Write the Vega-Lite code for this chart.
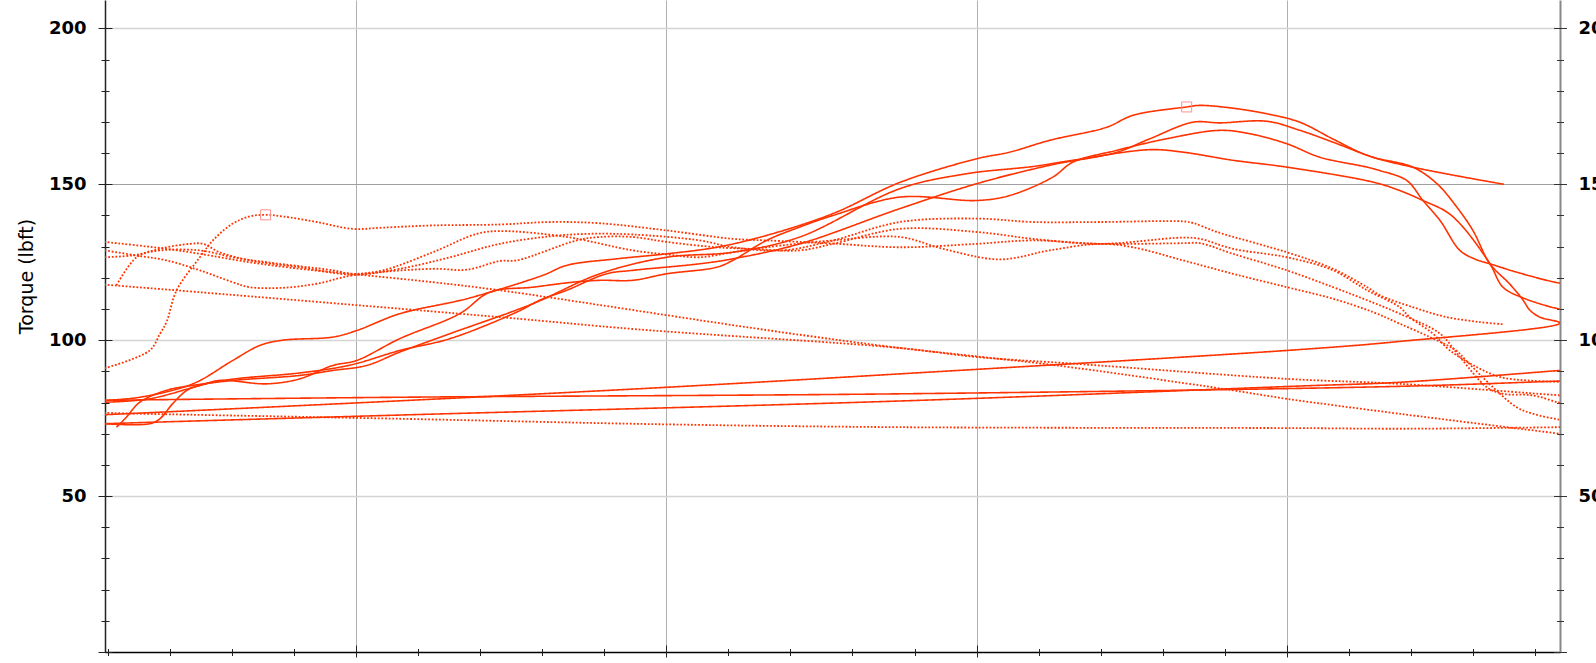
{
"$schema": "https://vega.github.io/schema/vega-lite/v6.json",
"width": 1455, "height": 652,
"autosize": {"type": "none"},
"padding": {"left": 105, "top": 0, "right": 36, "bottom": 11},
"background": "#ffffff",
"config": {"view": {"stroke": null}, "axis": {"labelFont": "DejaVu Sans", "titleFont": "DejaVu Sans"}},
"datasets": {
"marks": [{"rpm": 4678, "tq": 174.8}, {"rpm": 1707, "tq": 140.2}],
"lines": [
{"p":"P1","s":"solid","i":0,"rpm":1188,"tq":80.7},{"p":"P1","s":"solid","i":1,"rpm":1301,"tq":81.7},{"p":"P1","s":"solid","i":2,"rpm":1472,"tq":86},{"p":"P1","s":"solid","i":3,"rpm":1601,"tq":93.5},{"p":"P1","s":"solid","i":4,"rpm":1688,"tq":98.3},{"p":"P1","s":"solid","i":5,"rpm":1762,"tq":100},{"p":"P1","s":"solid","i":6,"rpm":1924,"tq":101},{"p":"P1","s":"solid","i":7,"rpm":2001,"tq":103.1},{"p":"P1","s":"solid","i":8,"rpm":2140,"tq":108.5},{"p":"P1","s":"solid","i":9,"rpm":2356,"tq":113.3},{"p":"P1","s":"solid","i":10,"rpm":2601,"tq":120.8},{"p":"P1","s":"solid","i":11,"rpm":2678,"tq":124},{"p":"P1","s":"solid","i":12,"rpm":2840,"tq":126.1},{"p":"P1","s":"solid","i":13,"rpm":3001,"tq":127.7},{"p":"P1","s":"solid","i":14,"rpm":3162,"tq":129.8},{"p":"P1","s":"solid","i":15,"rpm":3323,"tq":133.6},{"p":"P1","s":"solid","i":16,"rpm":3537,"tq":140.6},{"p":"P1","s":"solid","i":17,"rpm":3753,"tq":150.6},{"p":"P1","s":"solid","i":18,"rpm":4001,"tq":158.2},{"p":"P1","s":"solid","i":19,"rpm":4107,"tq":160.3},{"p":"P1","s":"solid","i":20,"rpm":4236,"tq":164.1},{"p":"P1","s":"solid","i":21,"rpm":4420,"tq":168.3},{"p":"P1","s":"solid","i":22,"rpm":4504,"tq":172.1},{"p":"P1","s":"solid","i":23,"rpm":4678,"tq":174.8},{"p":"P1","s":"solid","i":24,"rpm":4721,"tq":175.3},{"p":"P1","s":"solid","i":25,"rpm":4827,"tq":174.4},{"p":"P1","s":"solid","i":26,"rpm":4937,"tq":172.6},{"p":"P1","s":"solid","i":27,"rpm":5043,"tq":169.9},{"p":"P1","s":"solid","i":28,"rpm":5150,"tq":164.5},{"p":"P1","s":"solid","i":29,"rpm":5260,"tq":159.3},{"p":"P1","s":"solid","i":30,"rpm":5407,"tq":155.5},{"p":"P1","s":"solid","i":31,"rpm":5701,"tq":150},
{"p":"P2","s":"solid","i":0,"rpm":1188,"tq":73.2},{"p":"P2","s":"solid","i":1,"rpm":1333,"tq":73.2},{"p":"P2","s":"solid","i":2,"rpm":1366,"tq":74.8},{"p":"P2","s":"solid","i":3,"rpm":1407,"tq":79.6},{"p":"P2","s":"solid","i":4,"rpm":1453,"tq":83.9},{"p":"P2","s":"solid","i":5,"rpm":1495,"tq":85.5},{"p":"P2","s":"solid","i":6,"rpm":1601,"tq":87.5},{"p":"P2","s":"solid","i":7,"rpm":1817,"tq":89.5},{"p":"P2","s":"solid","i":8,"rpm":1979,"tq":92},{"p":"P2","s":"solid","i":9,"rpm":2140,"tq":96.7},{"p":"P2","s":"solid","i":10,"rpm":2302,"tq":100.5},{"p":"P2","s":"solid","i":11,"rpm":2517,"tq":109},{"p":"P2","s":"solid","i":12,"rpm":2591,"tq":112.8},{"p":"P2","s":"solid","i":13,"rpm":2678,"tq":116},{"p":"P2","s":"solid","i":14,"rpm":2807,"tq":121.3},{"p":"P2","s":"solid","i":15,"rpm":2891,"tq":122.4},{"p":"P2","s":"solid","i":16,"rpm":3107,"tq":124.5},{"p":"P2","s":"solid","i":17,"rpm":3214,"tq":126.1},{"p":"P2","s":"solid","i":18,"rpm":3430,"tq":130.9},{"p":"P2","s":"solid","i":19,"rpm":3753,"tq":142.2},{"p":"P2","s":"solid","i":20,"rpm":4001,"tq":150.2},{"p":"P2","s":"solid","i":21,"rpm":4236,"tq":156.1},{"p":"P2","s":"solid","i":22,"rpm":4453,"tq":160.3},{"p":"P2","s":"solid","i":23,"rpm":4559,"tq":164.6},{"p":"P2","s":"solid","i":24,"rpm":4698,"tq":169.9},{"p":"P2","s":"solid","i":25,"rpm":4785,"tq":169.7},{"p":"P2","s":"solid","i":26,"rpm":4937,"tq":170.2},{"p":"P2","s":"solid","i":27,"rpm":5043,"tq":167.3},{"p":"P2","s":"solid","i":28,"rpm":5150,"tq":163.5},{"p":"P2","s":"solid","i":29,"rpm":5279,"tq":158.7},{"p":"P2","s":"solid","i":30,"rpm":5407,"tq":155.5},{"p":"P2","s":"solid","i":31,"rpm":5485,"tq":150.2},{"p":"P2","s":"solid","i":32,"rpm":5549,"tq":142.7},{"p":"P2","s":"solid","i":33,"rpm":5601,"tq":135.2},{"p":"P2","s":"solid","i":34,"rpm":5656,"tq":124.5},{"p":"P2","s":"solid","i":35,"rpm":5720,"tq":118},{"p":"P2","s":"solid","i":36,"rpm":5762,"tq":113},{"p":"P2","s":"solid","i":37,"rpm":5785,"tq":109.6},{"p":"P2","s":"solid","i":38,"rpm":5817,"tq":107.4},{"p":"P2","s":"solid","i":39,"rpm":5882,"tq":105.5},{"p":"P2","s":"solid","i":40,"rpm":5365,"tq":99.6},{"p":"P2","s":"solid","i":41,"rpm":5043,"tq":97.0},{"p":"P2","s":"solid","i":42,"rpm":3753,"tq":89.2},{"p":"P2","s":"solid","i":43,"rpm":3001,"tq":84.9},{"p":"P2","s":"solid","i":44,"rpm":2107,"tq":80.4},{"p":"P2","s":"solid","i":45,"rpm":1188,"tq":76.1},{"p":"P2","s":"solid","i":46,"rpm":1140,"tq":75.9},
{"p":"P3","s":"solid","i":0,"rpm":1188,"tq":80.1},{"p":"P3","s":"solid","i":1,"rpm":1333,"tq":81.2},{"p":"P3","s":"solid","i":2,"rpm":1495,"tq":85.5},{"p":"P3","s":"solid","i":3,"rpm":1559,"tq":87.1},{"p":"P3","s":"solid","i":4,"rpm":1711,"tq":86},{"p":"P3","s":"solid","i":5,"rpm":1817,"tq":87.6},{"p":"P3","s":"solid","i":6,"rpm":1924,"tq":91.9},{"p":"P3","s":"solid","i":7,"rpm":2001,"tq":93.5},{"p":"P3","s":"solid","i":8,"rpm":2140,"tq":100.5},{"p":"P3","s":"solid","i":9,"rpm":2333,"tq":108.5},{"p":"P3","s":"solid","i":10,"rpm":2430,"tq":115.4},{"p":"P3","s":"solid","i":11,"rpm":2569,"tq":117},{"p":"P3","s":"solid","i":12,"rpm":2698,"tq":118.6},{"p":"P3","s":"solid","i":13,"rpm":2785,"tq":119.2},{"p":"P3","s":"solid","i":14,"rpm":2891,"tq":119.2},{"p":"P3","s":"solid","i":15,"rpm":3001,"tq":121.3},{"p":"P3","s":"solid","i":16,"rpm":3162,"tq":123.4},{"p":"P3","s":"solid","i":17,"rpm":3214,"tq":125.6},{"p":"P3","s":"solid","i":18,"rpm":3323,"tq":132},{"p":"P3","s":"solid","i":19,"rpm":3430,"tq":136.3},{"p":"P3","s":"solid","i":20,"rpm":3537,"tq":140},{"p":"P3","s":"solid","i":21,"rpm":3753,"tq":145.9},{"p":"P3","s":"solid","i":22,"rpm":4001,"tq":144.8},{"p":"P3","s":"solid","i":23,"rpm":4107,"tq":146.4},{"p":"P3","s":"solid","i":24,"rpm":4246,"tq":152.3},{"p":"P3","s":"solid","i":25,"rpm":4311,"tq":157.1},{"p":"P3","s":"solid","i":26,"rpm":4453,"tq":160.9},{"p":"P3","s":"solid","i":27,"rpm":4613,"tq":164.6},{"p":"P3","s":"solid","i":28,"rpm":4785,"tq":167.3},{"p":"P3","s":"solid","i":29,"rpm":4882,"tq":166.2},{"p":"P3","s":"solid","i":30,"rpm":5001,"tq":163},{"p":"P3","s":"solid","i":31,"rpm":5107,"tq":158.7},{"p":"P3","s":"solid","i":32,"rpm":5260,"tq":155.5},{"p":"P3","s":"solid","i":33,"rpm":5301,"tq":154.4},{"p":"P3","s":"solid","i":34,"rpm":5388,"tq":151.2},{"p":"P3","s":"solid","i":35,"rpm":5440,"tq":144.8},{"p":"P3","s":"solid","i":36,"rpm":5495,"tq":138.4},{"p":"P3","s":"solid","i":37,"rpm":5559,"tq":128.8},{"p":"P3","s":"solid","i":38,"rpm":5608,"tq":126},{"p":"P3","s":"solid","i":39,"rpm":5656,"tq":124.5},{"p":"P3","s":"solid","i":40,"rpm":5753,"tq":121.5},{"p":"P3","s":"solid","i":41,"rpm":5882,"tq":118.3},{"p":"P3","s":"solid","i":42,"rpm":5946,"tq":117.8},
{"p":"P4","s":"solid","i":0,"rpm":1226,"tq":72.1},{"p":"P4","s":"solid","i":1,"rpm":1258,"tq":75.3},{"p":"P4","s":"solid","i":2,"rpm":1301,"tq":80.1},{"p":"P4","s":"solid","i":3,"rpm":1387,"tq":83.9},{"p":"P4","s":"solid","i":4,"rpm":1472,"tq":85.5},{"p":"P4","s":"solid","i":5,"rpm":1601,"tq":87.1},{"p":"P4","s":"solid","i":6,"rpm":1817,"tq":88.7},{"p":"P4","s":"solid","i":7,"rpm":1924,"tq":90.3},{"p":"P4","s":"solid","i":8,"rpm":2033,"tq":91.9},{"p":"P4","s":"solid","i":9,"rpm":2140,"tq":96.2},{"p":"P4","s":"solid","i":10,"rpm":2302,"tq":102.1},{"p":"P4","s":"solid","i":11,"rpm":2569,"tq":111.7},{"p":"P4","s":"solid","i":12,"rpm":2785,"tq":121.3},{"p":"P4","s":"solid","i":13,"rpm":3001,"tq":126.6},{"p":"P4","s":"solid","i":14,"rpm":3214,"tq":128.2},{"p":"P4","s":"solid","i":15,"rpm":3430,"tq":133.1},{"p":"P4","s":"solid","i":16,"rpm":3753,"tq":148.6},{"p":"P4","s":"solid","i":17,"rpm":3969,"tq":153.4},{"p":"P4","s":"solid","i":18,"rpm":4182,"tq":155.7},{"p":"P4","s":"solid","i":19,"rpm":4311,"tq":157.7},{"p":"P4","s":"solid","i":20,"rpm":4559,"tq":161.1},{"p":"P4","s":"solid","i":21,"rpm":4666,"tq":160.3},{"p":"P4","s":"solid","i":22,"rpm":4827,"tq":157.7},{"p":"P4","s":"solid","i":23,"rpm":5001,"tq":155.5},{"p":"P4","s":"solid","i":24,"rpm":5279,"tq":150.7},{"p":"P4","s":"solid","i":25,"rpm":5365,"tq":148},{"p":"P4","s":"solid","i":26,"rpm":5440,"tq":144.8},{"p":"P4","s":"solid","i":27,"rpm":5517,"tq":141.1},{"p":"P4","s":"solid","i":28,"rpm":5569,"tq":136.3},{"p":"P4","s":"solid","i":29,"rpm":5656,"tq":124.5},{"p":"P4","s":"solid","i":30,"rpm":5698,"tq":117},{"p":"P4","s":"solid","i":31,"rpm":5762,"tq":113.6},{"p":"P4","s":"solid","i":32,"rpm":5882,"tq":110},{"p":"P4","s":"solid","i":33,"rpm":5946,"tq":109.5},
{"p":"L2","s":"solid","i":0,"rpm":1140,"tq":80.6},{"p":"L2","s":"solid","i":1,"rpm":1188,"tq":80.7},{"p":"L2","s":"solid","i":2,"rpm":2140,"tq":81.7},{"p":"L2","s":"solid","i":3,"rpm":3753,"tq":82.8},{"p":"L2","s":"solid","i":4,"rpm":5365,"tq":85.2},{"p":"L2","s":"solid","i":5,"rpm":5882,"tq":86.9},{"p":"L2","s":"solid","i":6,"rpm":5946,"tq":87.1},
{"p":"L3","s":"solid","i":0,"rpm":1140,"tq":73.0},{"p":"L3","s":"solid","i":1,"rpm":1188,"tq":73.2},{"p":"L3","s":"solid","i":2,"rpm":2107,"tq":75.9},{"p":"L3","s":"solid","i":3,"rpm":3753,"tq":80.5},{"p":"L3","s":"solid","i":4,"rpm":5043,"tq":85.3},{"p":"L3","s":"solid","i":5,"rpm":5365,"tq":86.5},{"p":"L3","s":"solid","i":6,"rpm":5882,"tq":90.3},{"p":"L3","s":"solid","i":7,"rpm":5946,"tq":90.8},
{"p":"X1","s":"dotted","i":0,"rpm":1188,"tq":91.0},{"p":"X1","s":"dotted","i":1,"rpm":1333,"tq":96.7},{"p":"X1","s":"dotted","i":2,"rpm":1366,"tq":102},{"p":"X1","s":"dotted","i":3,"rpm":1388,"tq":106},{"p":"X1","s":"dotted","i":4,"rpm":1420,"tq":116},{"p":"X1","s":"dotted","i":5,"rpm":1495,"tq":126.6},{"p":"X1","s":"dotted","i":6,"rpm":1537,"tq":132},{"p":"X1","s":"dotted","i":7,"rpm":1601,"tq":137.4},{"p":"X1","s":"dotted","i":8,"rpm":1656,"tq":139.7},{"p":"X1","s":"dotted","i":9,"rpm":1707,"tq":140.2},{"p":"X1","s":"dotted","i":10,"rpm":1762,"tq":139.7},{"p":"X1","s":"dotted","i":11,"rpm":1872,"tq":137.9},{"p":"X1","s":"dotted","i":12,"rpm":1988,"tq":135.7},{"p":"X1","s":"dotted","i":13,"rpm":2085,"tq":136.1},{"p":"X1","s":"dotted","i":14,"rpm":2246,"tq":136.8},{"p":"X1","s":"dotted","i":15,"rpm":2462,"tq":137.1},{"p":"X1","s":"dotted","i":16,"rpm":2624,"tq":137.9},{"p":"X1","s":"dotted","i":17,"rpm":2785,"tq":137.5},{"p":"X1","s":"dotted","i":18,"rpm":3001,"tq":135.2},{"p":"X1","s":"dotted","i":19,"rpm":3214,"tq":132.5},{"p":"X1","s":"dotted","i":20,"rpm":3323,"tq":132},{"p":"X1","s":"dotted","i":21,"rpm":3537,"tq":131},{"p":"X1","s":"dotted","i":22,"rpm":3753,"tq":129.8},{"p":"X1","s":"dotted","i":23,"rpm":4001,"tq":130.9},{"p":"X1","s":"dotted","i":24,"rpm":4182,"tq":132},{"p":"X1","s":"dotted","i":25,"rpm":4398,"tq":130.9},{"p":"X1","s":"dotted","i":26,"rpm":4666,"tq":131.1},{"p":"X1","s":"dotted","i":27,"rpm":4721,"tq":131.1},{"p":"X1","s":"dotted","i":28,"rpm":4827,"tq":127.7},{"p":"X1","s":"dotted","i":29,"rpm":5001,"tq":122.4},{"p":"X1","s":"dotted","i":30,"rpm":5150,"tq":117},{"p":"X1","s":"dotted","i":31,"rpm":5260,"tq":112.8},{"p":"X1","s":"dotted","i":32,"rpm":5365,"tq":108.5},{"p":"X1","s":"dotted","i":33,"rpm":5495,"tq":102.1},{"p":"X1","s":"dotted","i":34,"rpm":5559,"tq":94.6},{"p":"X1","s":"dotted","i":35,"rpm":5646,"tq":84.9},{"p":"X1","s":"dotted","i":36,"rpm":5698,"tq":82.8},{"p":"X1","s":"dotted","i":37,"rpm":5795,"tq":82.3},{"p":"X1","s":"dotted","i":38,"rpm":5882,"tq":79.9},{"p":"X1","s":"dotted","i":39,"rpm":5946,"tq":79},
{"p":"X2","s":"dotted","i":0,"rpm":1188,"tq":126.6},{"p":"X2","s":"dotted","i":1,"rpm":1279,"tq":127.2},{"p":"X2","s":"dotted","i":2,"rpm":1366,"tq":128.8},{"p":"X2","s":"dotted","i":3,"rpm":1495,"tq":128.8},{"p":"X2","s":"dotted","i":4,"rpm":1601,"tq":126.6},{"p":"X2","s":"dotted","i":5,"rpm":1711,"tq":125},{"p":"X2","s":"dotted","i":6,"rpm":1924,"tq":122.4},{"p":"X2","s":"dotted","i":7,"rpm":1988,"tq":121.3},{"p":"X2","s":"dotted","i":8,"rpm":2085,"tq":122.4},{"p":"X2","s":"dotted","i":9,"rpm":2246,"tq":128.2},{"p":"X2","s":"dotted","i":10,"rpm":2388,"tq":134.1},{"p":"X2","s":"dotted","i":11,"rpm":2462,"tq":135},{"p":"X2","s":"dotted","i":12,"rpm":2678,"tq":133.1},{"p":"X2","s":"dotted","i":13,"rpm":2891,"tq":128.8},{"p":"X2","s":"dotted","i":14,"rpm":3001,"tq":127.5},{"p":"X2","s":"dotted","i":15,"rpm":3107,"tq":126.6},{"p":"X2","s":"dotted","i":16,"rpm":3214,"tq":128.2},{"p":"X2","s":"dotted","i":17,"rpm":3323,"tq":129.8},{"p":"X2","s":"dotted","i":18,"rpm":3537,"tq":132},{"p":"X2","s":"dotted","i":19,"rpm":3753,"tq":133.1},{"p":"X2","s":"dotted","i":20,"rpm":3892,"tq":129.3},{"p":"X2","s":"dotted","i":21,"rpm":4075,"tq":125.9},{"p":"X2","s":"dotted","i":22,"rpm":4236,"tq":128.8},{"p":"X2","s":"dotted","i":23,"rpm":4398,"tq":130.9},{"p":"X2","s":"dotted","i":24,"rpm":4504,"tq":129.8},{"p":"X2","s":"dotted","i":25,"rpm":4666,"tq":125.6},{"p":"X2","s":"dotted","i":26,"rpm":4827,"tq":121.3},{"p":"X2","s":"dotted","i":27,"rpm":5001,"tq":117},{"p":"X2","s":"dotted","i":28,"rpm":5150,"tq":113.3},{"p":"X2","s":"dotted","i":29,"rpm":5279,"tq":109},{"p":"X2","s":"dotted","i":30,"rpm":5365,"tq":105.3},{"p":"X2","s":"dotted","i":31,"rpm":5462,"tq":101},{"p":"X2","s":"dotted","i":32,"rpm":5547,"tq":96.7},{"p":"X2","s":"dotted","i":33,"rpm":5579,"tq":93.5},{"p":"X2","s":"dotted","i":34,"rpm":5666,"tq":84.9},{"p":"X2","s":"dotted","i":35,"rpm":5742,"tq":78.5},{"p":"X2","s":"dotted","i":36,"rpm":5795,"tq":76.4},{"p":"X2","s":"dotted","i":37,"rpm":5882,"tq":74.5},{"p":"X2","s":"dotted","i":38,"rpm":5946,"tq":73.8},
{"p":"X3","s":"dotted","i":0,"rpm":1226,"tq":117.6},{"p":"X3","s":"dotted","i":1,"rpm":1291,"tq":126.6},{"p":"X3","s":"dotted","i":2,"rpm":1366,"tq":129.3},{"p":"X3","s":"dotted","i":3,"rpm":1463,"tq":130.9},{"p":"X3","s":"dotted","i":4,"rpm":1505,"tq":130.9},{"p":"X3","s":"dotted","i":5,"rpm":1559,"tq":128.2},{"p":"X3","s":"dotted","i":6,"rpm":1656,"tq":125.6},{"p":"X3","s":"dotted","i":7,"rpm":1817,"tq":123.4},{"p":"X3","s":"dotted","i":8,"rpm":1988,"tq":121},{"p":"X3","s":"dotted","i":9,"rpm":2140,"tq":122.9},{"p":"X3","s":"dotted","i":10,"rpm":2302,"tq":126.6},{"p":"X3","s":"dotted","i":11,"rpm":2462,"tq":130.9},{"p":"X3","s":"dotted","i":12,"rpm":2624,"tq":133.3},{"p":"X3","s":"dotted","i":13,"rpm":2743,"tq":134.1},{"p":"X3","s":"dotted","i":14,"rpm":2891,"tq":133.9},{"p":"X3","s":"dotted","i":15,"rpm":3107,"tq":132},{"p":"X3","s":"dotted","i":16,"rpm":3214,"tq":129.8},{"p":"X3","s":"dotted","i":17,"rpm":3376,"tq":128.8},{"p":"X3","s":"dotted","i":18,"rpm":3537,"tq":132},{"p":"X3","s":"dotted","i":19,"rpm":3753,"tq":137.9},{"p":"X3","s":"dotted","i":20,"rpm":4001,"tq":139},{"p":"X3","s":"dotted","i":21,"rpm":4182,"tq":137.9},{"p":"X3","s":"dotted","i":22,"rpm":4398,"tq":137.9},{"p":"X3","s":"dotted","i":23,"rpm":4666,"tq":138.1},{"p":"X3","s":"dotted","i":24,"rpm":4698,"tq":137.6},{"p":"X3","s":"dotted","i":25,"rpm":4776,"tq":134.7},{"p":"X3","s":"dotted","i":26,"rpm":5001,"tq":128.2},{"p":"X3","s":"dotted","i":27,"rpm":5150,"tq":122.9},{"p":"X3","s":"dotted","i":28,"rpm":5260,"tq":117},{"p":"X3","s":"dotted","i":29,"rpm":5301,"tq":114.4},{"p":"X3","s":"dotted","i":30,"rpm":5407,"tq":110.6},{"p":"X3","s":"dotted","i":31,"rpm":5517,"tq":107.4},{"p":"X3","s":"dotted","i":32,"rpm":5624,"tq":105.8},{"p":"X3","s":"dotted","i":33,"rpm":5701,"tq":105.1},
{"p":"X4","s":"dotted","i":0,"rpm":1188,"tq":128.8},{"p":"X4","s":"dotted","i":1,"rpm":1301,"tq":127},{"p":"X4","s":"dotted","i":2,"rpm":1387,"tq":125.6},{"p":"X4","s":"dotted","i":3,"rpm":1495,"tq":122.4},{"p":"X4","s":"dotted","i":4,"rpm":1601,"tq":118.6},{"p":"X4","s":"dotted","i":5,"rpm":1656,"tq":117},{"p":"X4","s":"dotted","i":6,"rpm":1762,"tq":116.8},{"p":"X4","s":"dotted","i":7,"rpm":1872,"tq":118.1},{"p":"X4","s":"dotted","i":8,"rpm":1988,"tq":120.8},{"p":"X4","s":"dotted","i":9,"rpm":2246,"tq":122.9},{"p":"X4","s":"dotted","i":10,"rpm":2356,"tq":122.6},{"p":"X4","s":"dotted","i":11,"rpm":2462,"tq":125.4},{"p":"X4","s":"dotted","i":12,"rpm":2517,"tq":125.6},{"p":"X4","s":"dotted","i":13,"rpm":2711,"tq":132},{"p":"X4","s":"dotted","i":14,"rpm":2785,"tq":133.1},{"p":"X4","s":"dotted","i":15,"rpm":2891,"tq":133.1},{"p":"X4","s":"dotted","i":16,"rpm":3001,"tq":131.5},{"p":"X4","s":"dotted","i":17,"rpm":3162,"tq":129.8},{"p":"X4","s":"dotted","i":18,"rpm":3269,"tq":129.3},{"p":"X4","s":"dotted","i":19,"rpm":3430,"tq":128.8},{"p":"X4","s":"dotted","i":20,"rpm":3537,"tq":130.9},{"p":"X4","s":"dotted","i":21,"rpm":3753,"tq":135.7},{"p":"X4","s":"dotted","i":22,"rpm":4001,"tq":134.7},{"p":"X4","s":"dotted","i":23,"rpm":4182,"tq":132.5},{"p":"X4","s":"dotted","i":24,"rpm":4398,"tq":130.9},{"p":"X4","s":"dotted","i":25,"rpm":4666,"tq":132.9},{"p":"X4","s":"dotted","i":26,"rpm":4721,"tq":132.5},{"p":"X4","s":"dotted","i":27,"rpm":4827,"tq":129.3},{"p":"X4","s":"dotted","i":28,"rpm":5001,"tq":126.6},{"p":"X4","s":"dotted","i":29,"rpm":5150,"tq":122.4},{"p":"X4","s":"dotted","i":30,"rpm":5260,"tq":116},{"p":"X4","s":"dotted","i":31,"rpm":5365,"tq":110.6},{"p":"X4","s":"dotted","i":32,"rpm":5397,"tq":107.4},{"p":"X4","s":"dotted","i":33,"rpm":5472,"tq":102.1},{"p":"X4","s":"dotted","i":34,"rpm":5527,"tq":96.7},{"p":"X4","s":"dotted","i":35,"rpm":5613,"tq":91.4},{"p":"X4","s":"dotted","i":36,"rpm":5688,"tq":88.2},{"p":"X4","s":"dotted","i":37,"rpm":5775,"tq":87.1},{"p":"X4","s":"dotted","i":38,"rpm":5882,"tq":86.6},{"p":"X4","s":"dotted","i":39,"rpm":5946,"tq":86.3},
{"p":"R1","s":"dotted","i":0,"rpm":1140,"tq":131.9},{"p":"R1","s":"dotted","i":1,"rpm":1188,"tq":131.5},{"p":"R1","s":"dotted","i":2,"rpm":1387,"tq":129.3},{"p":"R1","s":"dotted","i":3,"rpm":1495,"tq":127.7},{"p":"R1","s":"dotted","i":4,"rpm":1656,"tq":125},{"p":"R1","s":"dotted","i":5,"rpm":1817,"tq":122.9},{"p":"R1","s":"dotted","i":6,"rpm":1979,"tq":121.3},{"p":"R1","s":"dotted","i":7,"rpm":2246,"tq":118.6},{"p":"R1","s":"dotted","i":8,"rpm":2462,"tq":116},{"p":"R1","s":"dotted","i":9,"rpm":3333,"tq":103.1},{"p":"R1","s":"dotted","i":10,"rpm":3753,"tq":97.5},{"p":"R1","s":"dotted","i":11,"rpm":4001,"tq":94.8},{"p":"R1","s":"dotted","i":12,"rpm":4259,"tq":91.9},{"p":"R1","s":"dotted","i":13,"rpm":4795,"tq":84.4},{"p":"R1","s":"dotted","i":14,"rpm":5001,"tq":81.2},{"p":"R1","s":"dotted","i":15,"rpm":5365,"tq":76.4},{"p":"R1","s":"dotted","i":16,"rpm":5882,"tq":70.0},{"p":"R1","s":"dotted","i":17,"rpm":5946,"tq":69.2},
{"p":"R3","s":"dotted","i":0,"rpm":1140,"tq":118.1},{"p":"R3","s":"dotted","i":1,"rpm":1188,"tq":117.8},{"p":"R3","s":"dotted","i":2,"rpm":2462,"tq":107.4},{"p":"R3","s":"dotted","i":3,"rpm":2904,"tq":103.5},{"p":"R3","s":"dotted","i":4,"rpm":3753,"tq":97.5},{"p":"R3","s":"dotted","i":5,"rpm":4001,"tq":94.6},{"p":"R3","s":"dotted","i":6,"rpm":4324,"tq":92.4},{"p":"R3","s":"dotted","i":7,"rpm":5001,"tq":87.6},{"p":"R3","s":"dotted","i":8,"rpm":5365,"tq":86.0},{"p":"R3","s":"dotted","i":9,"rpm":5882,"tq":82.3},{"p":"R3","s":"dotted","i":10,"rpm":5946,"tq":81.9},
{"p":"R4","s":"dotted","i":0,"rpm":1140,"tq":76.9},{"p":"R4","s":"dotted","i":1,"rpm":1188,"tq":76.7},{"p":"R4","s":"dotted","i":2,"rpm":2140,"tq":74.8},{"p":"R4","s":"dotted","i":3,"rpm":3001,"tq":73},{"p":"R4","s":"dotted","i":4,"rpm":3753,"tq":72.1},{"p":"R4","s":"dotted","i":5,"rpm":5043,"tq":71.8},{"p":"R4","s":"dotted","i":6,"rpm":5365,"tq":71.6},{"p":"R4","s":"dotted","i":7,"rpm":5882,"tq":72.1},{"p":"R4","s":"dotted","i":8,"rpm":5946,"tq":72.2}
]
},
"resolve": {"axis": {"x": "independent", "y": "independent"}},
"layer": [
{
"data": {"name": "lines"},
"mark": {"type": "line", "clip": true, "color": "#ff3300", "interpolate": "catmull-rom"},
"encoding": {
"x": {"field": "rpm", "type": "quantitative", "scale": {"domain": [1189, 5882], "nice": false, "zero": false},
 "axis": {"orient": "bottom", "values": [2000, 3000, 4000, 5000], "grid": true, "gridColor": "#b0b0b0", "gridWidth": 1, "ticks": false, "labels": false, "domain": true, "domainColor": "#000000", "domainWidth": 1.5, "title": null}},
"y": {"field": "tq", "type": "quantitative", "scale": {"domain": [0, 209.1], "nice": false, "zero": false},
 "axis": {"orient": "left", "values": [50, 100, 150, 200], "grid": true,
  "gridColor": {"condition": {"test": "datum.value === 150", "value": "#a0a0a0"}, "value": "#d4d4d4"},
  "gridWidth": {"condition": {"test": "datum.value === 150", "value": 1}, "value": 1.5},
  "ticks": false, "labels": true, "labelFontSize": 18, "labelFontWeight": "bold", "labelColor": "#000000", "labelPadding": 19,
  "domain": true, "domainColor": "#222222", "domainWidth": 1.5,
  "title": "Torque (lbft)", "titleFontSize": 19, "titleFontWeight": 500, "titleColor": "#000000",
  "titleAngle": 270, "titleX": -73, "titleY": 276, "titleAlign": "center", "titleBaseline": "alphabetic"}},
"detail": {"field": "p", "type": "nominal"},
"order": {"field": "i", "type": "quantitative"},
"strokeDash": {"field": "s", "type": "nominal", "scale": {"domain": ["solid", "dotted"], "range": [[1, 0], [1.8, 1.8]]}, "legend": null},
"strokeWidth": {"field": "s", "type": "nominal", "scale": {"domain": ["solid", "dotted"], "range": [1.6, 1.8]}, "legend": null}
}
},
{
"data": {"name": "marks"},
"mark": {"type": "point", "shape": "square", "filled": false, "size": 100, "stroke": "#ff9090", "strokeWidth": 1, "opacity": 1},
"encoding": {
"x": {"field": "rpm", "type": "quantitative", "axis": {"orient": "bottom", "values": [2000, 3000, 4000, 5000], "grid": false, "domain": false, "labels": false, "ticks": true, "tickSize": 12, "offset": -7, "tickColor": "#222222", "tickWidth": 1, "title": null}},
"y": {"field": "tq", "type": "quantitative", "axis": {"orient": "left", "values": [0, 50, 100, 150, 200], "grid": false, "domain": false, "labels": false, "ticks": true, "tickSize": 14, "offset": -7, "tickColor": "#222222", "tickWidth": 1, "title": null}}
}
},
{
"data": {"name": "marks"},
"mark": {"type": "point", "opacity": 0},
"encoding": {
"x": {"field": "rpm", "type": "quantitative", "axis": {"orient": "bottom", "values": [1200, 1400, 1600, 1800, 2200, 2400, 2600, 2800, 3200, 3400, 3600, 3800, 4200, 4400, 4600, 4800, 5200, 5400, 5600, 5800], "grid": false, "domain": false, "labels": false, "ticks": true, "tickSize": 7, "offset": -3.5, "tickColor": "#222222", "tickWidth": 1, "title": null}},
"y": {"field": "tq", "type": "quantitative", "axis": {"orient": "left", "values": [10, 20, 30, 40, 60, 70, 80, 90, 110, 120, 130, 140, 160, 170, 180, 190], "grid": false, "domain": false, "labels": false, "ticks": true, "tickSize": 8, "offset": -4, "tickColor": "#222222", "tickWidth": 1, "title": null}}
}
},
{
"data": {"name": "marks"},
"mark": {"type": "point", "opacity": 0},
"encoding": {
"x": {"field": "rpm", "type": "quantitative", "axis": null},
"y": {"field": "tq", "type": "quantitative", "axis": {"orient": "right", "values": [50, 100, 150, 200], "grid": false, "domain": true, "domainColor": "#888888", "domainWidth": 2, "labels": true, "labelFontSize": 18, "labelFontWeight": "bold", "labelColor": "#000000", "labelPadding": 18, "ticks": false, "title": null}}
}
},
{
"data": {"name": "marks"},
"mark": {"type": "point", "opacity": 0},
"encoding": {
"x": {"field": "rpm", "type": "quantitative", "axis": null},
"y": {"field": "tq", "type": "quantitative", "axis": {"orient": "right", "values": [0, 50, 100, 150, 200], "grid": false, "domain": false, "labels": false, "ticks": true, "tickSize": 13, "offset": -6.5, "tickColor": "#333333", "tickWidth": 1, "title": null}}
}
},
{
"data": {"name": "marks"},
"mark": {"type": "point", "opacity": 0},
"encoding": {
"x": {"field": "rpm", "type": "quantitative", "axis": null},
"y": {"field": "tq", "type": "quantitative", "axis": {"orient": "right", "values": [10, 20, 30, 40, 60, 70, 80, 90, 110, 120, 130, 140, 160, 170, 180, 190], "grid": false, "domain": false, "labels": false, "ticks": true, "tickSize": 7, "offset": -3.5, "tickColor": "#333333", "tickWidth": 1, "title": null}}
}
}
]
}
